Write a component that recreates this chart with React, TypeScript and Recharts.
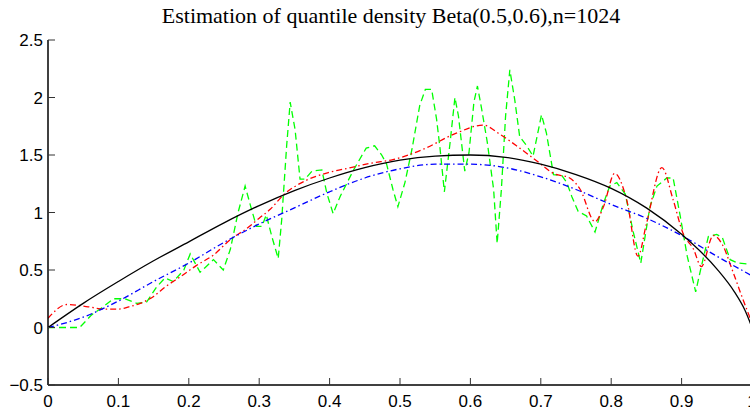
import { LineChart, Line, XAxis, YAxis } from "recharts";

const xTicks = [0, 0.1, 0.2, 0.3, 0.4, 0.5, 0.6, 0.7, 0.8, 0.9, 1];
const yTicks = [-0.5, 0, 0.5, 1, 1.5, 2, 2.5];

// black solid: true quantile density
const trueDensity: [number, number][] = [
  [0, 0], [0.05, 0.21], [0.1, 0.4], [0.15, 0.58], [0.2, 0.745], [0.25, 0.91],
  [0.3, 1.06], [0.35, 1.19], [0.4, 1.3], [0.45, 1.39], [0.5, 1.455], [0.55, 1.49],
  [0.6, 1.5], [0.65, 1.48], [0.7, 1.42], [0.75, 1.33], [0.8, 1.21], [0.85, 1.04],
  [0.9, 0.81], [0.95, 0.51], [0.975, 0.31], [0.99, 0.15], [1, 0],
];

// blue dash-dot: smooth estimate
const smoothEstimate: [number, number][] = [
  [0, 0], [0.05, 0.09], [0.1, 0.23], [0.15, 0.4], [0.2, 0.56], [0.25, 0.74],
  [0.3, 0.9], [0.35, 1.04], [0.4, 1.18], [0.45, 1.3], [0.5, 1.38], [0.55, 1.42],
  [0.6, 1.42], [0.65, 1.39], [0.7, 1.31], [0.75, 1.2], [0.8, 1.07], [0.85, 0.95],
  [0.9, 0.8], [0.95, 0.62], [1, 0.45],
];

// red dash-dot
const redEstimate: [number, number][] = [
  [0, 0.08], [0.027, 0.2], [0.057, 0.18], [0.08, 0.16], [0.1, 0.16], [0.115, 0.18],
  [0.131, 0.21], [0.15, 0.27], [0.166, 0.35], [0.19, 0.45], [0.211, 0.54], [0.235, 0.63],
  [0.26, 0.77], [0.282, 0.86], [0.3, 0.95], [0.316, 1.03], [0.334, 1.15], [0.367, 1.28],
  [0.4, 1.35], [0.43, 1.39], [0.46, 1.43], [0.49, 1.46], [0.533, 1.55], [0.58, 1.69],
  [0.618, 1.76], [0.642, 1.68], [0.67, 1.56], [0.694, 1.45], [0.718, 1.34], [0.741, 1.3],
  [0.756, 1.2], [0.777, 0.92], [0.789, 1.05], [0.805, 1.34], [0.822, 1.11], [0.838, 0.62],
  [0.85, 0.9], [0.872, 1.39], [0.888, 1.11], [0.902, 0.82], [0.917, 0.68], [0.928, 0.53],
  [0.945, 0.8], [0.958, 0.72], [0.972, 0.5], [0.985, 0.28], [1, 0.04],
];

// green dashed: noisy estimate
const greenEstimate: [number, number][] = [
  [0, 0], [0.045, 0], [0.062, 0.11], [0.076, 0.17], [0.093, 0.25], [0.109, 0.25],
  [0.126, 0.21], [0.14, 0.22], [0.154, 0.35], [0.166, 0.43], [0.178, 0.4], [0.193, 0.5],
  [0.202, 0.64], [0.216, 0.48], [0.223, 0.52], [0.235, 0.59], [0.249, 0.5], [0.259, 0.68],
  [0.27, 1.0], [0.28, 1.23], [0.289, 1.03], [0.296, 0.88], [0.304, 0.88], [0.31, 0.98],
  [0.318, 0.79], [0.327, 0.6], [0.332, 0.94], [0.339, 1.58], [0.344, 1.96], [0.351, 1.72],
  [0.358, 1.29], [0.365, 1.29], [0.375, 1.36], [0.389, 1.37], [0.396, 1.17], [0.405, 0.99],
  [0.415, 1.14], [0.434, 1.37], [0.452, 1.56], [0.464, 1.58], [0.474, 1.5], [0.481, 1.42],
  [0.49, 1.2], [0.497, 1.05], [0.507, 1.26], [0.517, 1.55], [0.528, 1.93], [0.536, 2.07],
  [0.545, 2.07], [0.552, 1.81], [0.557, 1.55], [0.563, 1.18], [0.571, 1.6], [0.578, 2.0],
  [0.583, 1.84], [0.592, 1.36], [0.598, 1.52], [0.605, 1.96], [0.61, 2.1], [0.616, 1.9],
  [0.624, 1.61], [0.633, 1.2], [0.638, 0.73], [0.644, 1.2], [0.65, 1.84], [0.656, 2.24],
  [0.663, 1.98], [0.67, 1.66], [0.68, 1.58], [0.689, 1.49], [0.701, 1.85], [0.708, 1.69],
  [0.718, 1.33], [0.73, 1.32], [0.737, 1.26], [0.744, 1.14], [0.753, 1.01], [0.765, 0.97],
  [0.777, 0.83], [0.789, 1.08], [0.798, 1.23], [0.808, 1.26], [0.82, 1.16], [0.831, 0.84],
  [0.842, 0.56], [0.855, 1.05], [0.865, 1.23], [0.879, 1.3], [0.888, 1.3], [0.898, 0.97],
  [0.908, 0.62], [0.92, 0.31], [0.928, 0.53], [0.938, 0.79], [0.95, 0.81], [0.958, 0.78],
  [0.969, 0.59], [0.98, 0.56], [1, 0.55],
];

const toPoints = (pairs: [number, number][]) => pairs.map(([x, y]) => ({ x, y }));

const FONT = "'Liberation Sans', Arial, Helvetica, sans-serif";
const TICK_LEN = 7;
const TICK_COLOR = "#333";

const fmtY = (v: number) => (v < 0 ? "\u2212" + Math.abs(v) : String(v));

function BottomTick({ x, y, payload }: any) {
  return (
    <g>
      <line x1={x} y1={y} x2={x} y2={y - TICK_LEN} stroke={TICK_COLOR} />
      <text x={x} y={y + 22} textAnchor="middle" fontSize={17} fontFamily={FONT} fill="#000">
        {payload.value}
      </text>
    </g>
  );
}

function TopTick({ x, y }: any) {
  return <line x1={x} y1={y} x2={x} y2={y + TICK_LEN} stroke={TICK_COLOR} />;
}

function LeftTick({ x, y, payload }: any) {
  return (
    <g>
      <line x1={x} y1={y} x2={x + TICK_LEN} y2={y} stroke={TICK_COLOR} />
      <text x={x - 5} y={y + 6} textAnchor="end" fontSize={17} fontFamily={FONT} fill="#000">
        {fmtY(payload.value)}
      </text>
    </g>
  );
}

function RightTick({ x, y }: any) {
  return <line x1={x} y1={y} x2={x - TICK_LEN} y2={y} stroke={TICK_COLOR} />;
}

export default function App() {
  const axisLine = { stroke: "#000", strokeWidth: 1.5 };
  return (
    <div
      style={{
        position: "absolute",
        left: 0,
        top: 0,
        width: 750,
        height: 411,
        overflow: "hidden",
        background: "#fff",
      }}
    >
      <svg width={750} height={40} style={{ position: "absolute", left: 0, top: 0 }}>
        <text x={391} y={23} textAnchor="middle" fontSize={22} fontFamily="'Liberation Serif', 'Times New Roman', serif" fill="#000">
          Estimation of quantile density Beta(0.5,0.6),n=1024
        </text>
      </svg>
      <LineChart width={760} height={411} margin={{ top: 40, right: 8, bottom: 0, left: 8 }}>
        <XAxis
          xAxisId="bottom"
          dataKey="x"
          type="number"
          domain={[0, 1]}
          ticks={xTicks}
          interval={0}
          height={26}
          tickSize={0}
          tickMargin={0}
          tickLine={false}
          axisLine={axisLine}
          tick={<BottomTick />}
          allowDataOverflow
        />
        <XAxis
          xAxisId="top"
          orientation="top"
          dataKey="x"
          type="number"
          domain={[0, 1]}
          ticks={xTicks}
          interval={0}
          height={0}
          tickSize={0}
          tickMargin={0}
          tickLine={false}
          axisLine={axisLine}
          tick={<TopTick />}
          allowDataOverflow
        />
        <YAxis
          yAxisId="left"
          type="number"
          domain={[-0.5, 2.5]}
          ticks={yTicks}
          interval={0}
          width={40}
          tickSize={0}
          tickMargin={0}
          tickLine={false}
          axisLine={axisLine}
          tick={<LeftTick />}
          allowDataOverflow
        />
        <YAxis
          yAxisId="right"
          orientation="right"
          type="number"
          domain={[-0.5, 2.5]}
          ticks={yTicks}
          interval={0}
          width={0}
          tickSize={0}
          tickMargin={0}
          tickLine={false}
          axisLine={axisLine}
          tick={<RightTick />}
          allowDataOverflow
        />
        <Line
          xAxisId="bottom"
          yAxisId="left"
          data={toPoints(greenEstimate)}
          dataKey="y"
          type="linear"
          stroke="#00ff00"
          strokeWidth={1.3}
          strokeDasharray="7 4"
          dot={false}
          isAnimationActive={false}
        />
        <Line
          xAxisId="bottom"
          yAxisId="left"
          data={toPoints(redEstimate)}
          dataKey="y"
          type="monotone"
          stroke="#ff0000"
          strokeWidth={1.3}
          strokeDasharray="6 3 1.5 3"
          dot={false}
          isAnimationActive={false}
        />
        <Line
          xAxisId="bottom"
          yAxisId="left"
          data={toPoints(smoothEstimate)}
          dataKey="y"
          type="monotone"
          stroke="#0000ff"
          strokeWidth={1.3}
          strokeDasharray="6 3 1.5 3"
          dot={false}
          isAnimationActive={false}
        />
        <Line
          xAxisId="bottom"
          yAxisId="left"
          data={toPoints(trueDensity)}
          dataKey="y"
          type="monotone"
          stroke="#000000"
          strokeWidth={1.3}
          dot={false}
          isAnimationActive={false}
        />
      </LineChart>
    </div>
  );
}
